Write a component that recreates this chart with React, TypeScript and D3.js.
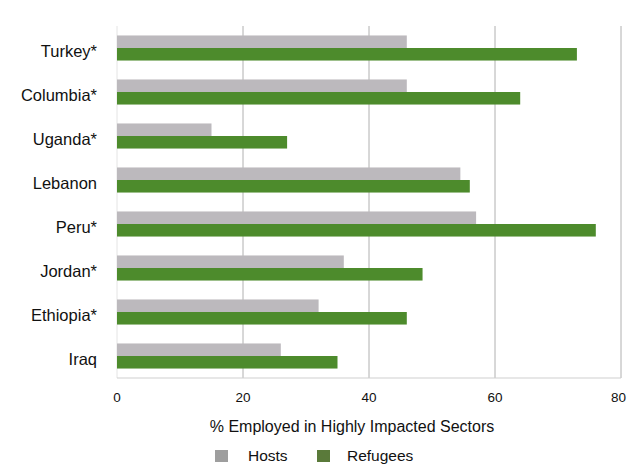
import React from "react";
import * as d3 from "d3";

const categories = ["Turkey*", "Columbia*", "Uganda*", "Lebanon", "Peru*", "Jordan*", "Ethiopia*", "Iraq"];
const hosts = [46, 46, 15, 54.5, 57, 36, 32, 26];
const refugees = [73, 64, 27, 56, 76, 48.5, 46, 35];
const xTicks = [0, 20, 40, 60, 80];
const seriesNames = ["Hosts", "Refugees"];

const W = 627;
const H = 465;
const GRAY = "#bcb9bd";
const GREEN = "#4d8b2c";

export default function App() {
  const x = d3.scaleLinear().domain([0, 80]).range([117, 621]);
  const y = d3.scaleBand<string>().domain(categories).range([26, 378]).paddingInner(0.43).paddingOuter(0.215);
  const sub = d3.scaleBand<string>().domain(seriesNames).range([0, y.bandwidth()]).padding(0);
  const font = "Liberation Sans, Arial, sans-serif";
  return (
    <svg width={W} height={H} style={{ position: "absolute", left: 0, top: 0, background: "#fff" }} fontFamily={font}>
      <line x1={x(0)} x2={x(0)} y1={26} y2={378} stroke="#e4e4e4" />
      {xTicks.slice(1).map((t) => (
        <line key={t} x1={x(t)} x2={x(t)} y1={26} y2={378} stroke="#b0b0b0" strokeWidth={1} />
      ))}
      <line x1={x(0)} x2={x(80)} y1={378} y2={378} stroke="#cfcfcf" />
      {categories.map((c, i) => (
        <g key={c}>
          <rect x={x(0)} y={(y(c) as number) + (sub("Hosts") as number)} width={x(hosts[i]) - x(0)} height={sub.bandwidth()} fill={GRAY} />
          <rect x={x(0)} y={(y(c) as number) + (sub("Refugees") as number)} width={x(refugees[i]) - x(0)} height={sub.bandwidth()} fill={GREEN} />
          <text x={97} y={(y(c) as number) + y.bandwidth() / 2 + 3} dy="0.35em" textAnchor="end" fontSize={16.5} fill="#111">
            {c}
          </text>
        </g>
      ))}
      {xTicks.map((t) => (
        <text key={t} x={t === 80 ? W - 1 : x(t)} y={402} textAnchor={t === 80 ? "end" : "middle"} fontSize={13.5} fill="#111">
          {t}
        </text>
      ))}
      <text x={352} y={432} textAnchor="middle" fontSize={16} fill="#111">
        % Employed in Highly Impacted Sectors
      </text>
      <rect x={215} y={450} width={13} height={12} fill="#9e9e9e" />
      <text x={248} y={461} fontSize={15.5} fill="#111">Hosts</text>
      <rect x={317} y={450} width={13} height={12} fill="#5a7a3a" />
      <text x={347} y={461} fontSize={15.5} fill="#111">Refugees</text>
    </svg>
  );
}
